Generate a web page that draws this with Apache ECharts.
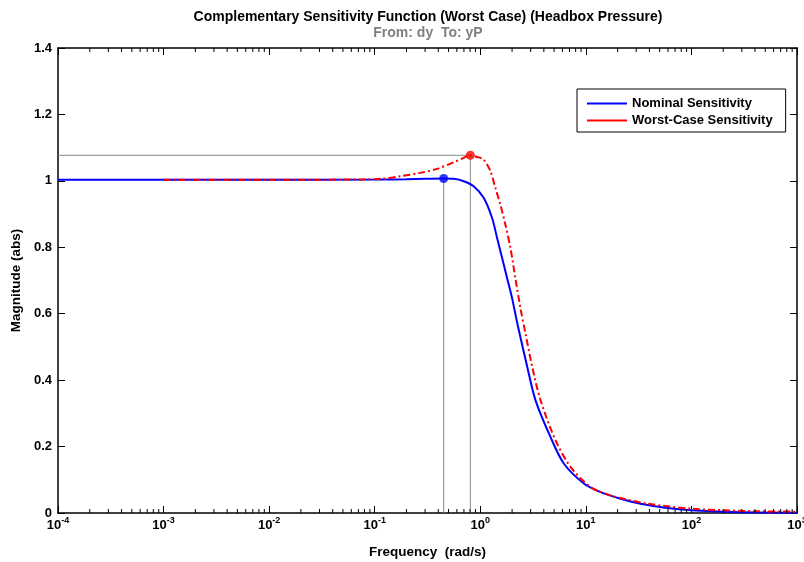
<!DOCTYPE html>
<html>
<head>
<meta charset="utf-8">
<script src="https://cdn.jsdelivr.net/npm/echarts@6/dist/echarts.min.js"></script>
<style>html,body{margin:0;padding:0;background:#fff;}#c{width:804px;height:562px;}</style>
</head>
<body>
<div id="c"></div>
<script>
// ---- data ----
const nominalFreq = [1e-4, 1e-3, 1e-2, 0.1, 0.2, 0.3, 0.45, 0.56, 0.697, 0.865, 1.077, 1.294, 1.443, 1.61, 1.795, 2.0, 2.26, 2.78, 3.33, 4.62, 6.18, 9.57, 13.8, 21.3, 33, 59.2, 100, 236, 1000];
const nominalMag  = [1.003, 1.003, 1.003, 1.004, 1.005, 1.006, 1.007, 1.006, 0.999, 0.984, 0.949, 0.888, 0.828, 0.768, 0.707, 0.647, 0.566, 0.441, 0.340, 0.229, 0.149, 0.089, 0.063, 0.043, 0.028, 0.015, 0.008, 0.003, 0.001];

const worstFreq = [1e-3, 1e-2, 0.05, 0.113, 0.175, 0.27, 0.389, 0.56, 0.697, 0.805, 0.933, 1.077, 1.248, 1.39, 1.55, 1.73, 1.93, 2.15, 2.40, 2.68, 3.10, 3.72, 5.16, 7.16, 11.1, 17.1, 25, 38.3, 100, 340, 1000];
const worstMag  = [1.003, 1.003, 1.004, 1.006, 1.014, 1.024, 1.036, 1.056, 1.069, 1.077, 1.072, 1.064, 1.029, 0.979, 0.928, 0.868, 0.798, 0.707, 0.617, 0.541, 0.441, 0.340, 0.219, 0.139, 0.078, 0.053, 0.040, 0.028, 0.013, 0.006, 0.004];

const nominalPeak = [0.45, 1.007];
const worstPeak = [0.805, 1.077];

const yTicks = [0, 0.2, 0.4, 0.6, 0.8, 1, 1.2, 1.4];
const xDecades = [-4, -3, -2, -1, 0, 1, 2, 3];

// minor tick positions (2..9 x 10^k)
const minorTicks = [];
for (let k = -4; k < 3; k++) for (let m = 2; m <= 9; m++) minorTicks.push(m * Math.pow(10, k));

const FONT = 'Liberation Sans, Arial, sans-serif';
const pairs = (xs, ys) => xs.map((x, i) => [x, ys[i]]);

const chart = echarts.init(document.getElementById('c'), null, {renderer: 'canvas'});

const xCommon = {
  type: 'log', logBase: 10, min: Math.pow(10, xDecades[0]), max: Math.pow(10, xDecades[xDecades.length - 1]),
  splitNumber: xDecades.length - 1,
  splitLine: {show: false},
  axisLine: {show: true, onZero: false, lineStyle: {color: '#000', width: 1.5}},
  axisTick: {show: true, inside: true, length: 7, lineStyle: {color: '#000', width: 1}}
};
const yCommon = {
  type: 'value', min: yTicks[0], max: yTicks[yTicks.length - 1], interval: 0.2,
  splitLine: {show: false},
  axisLine: {show: true, onZero: false, lineStyle: {color: '#000', width: 1.5}},
  axisTick: {show: true, inside: true, length: 7, lineStyle: {color: '#000', width: 1}}
};

chart.setOption({
  animation: false,
  backgroundColor: '#fff',
  title: {
    text: 'Complementary Sensitivity Function (Worst Case) (Headbox Pressure)',
    subtext: 'From: dy  To: yP',
    left: 423, top: 5, textAlign: 'center', itemGap: 2,
    textStyle: {fontFamily: FONT, fontSize: 14, fontWeight: 'bold', color: '#000'},
    subtextStyle: {fontFamily: FONT, fontSize: 14, fontWeight: 'bold', color: '#808080'}
  },
  legend: {
    data: ['Nominal Sensitivity', 'Worst-Case Sensitivity'],
    orient: 'vertical', left: 577, top: 89,
    padding: [8, 13, 5, 10], itemGap: 4,
    itemWidth: 40, itemHeight: 2, icon: 'rect',
    borderColor: '#000', borderWidth: 1, backgroundColor: '#fff',
    textStyle: {fontFamily: FONT, fontSize: 13, fontWeight: 'bold', color: '#000'}
  },
  grid: {left: 58, top: 48, right: 7, bottom: 49, containLabel: false, outerBoundsMode: 'none'},
  xAxis: [
    Object.assign({}, xCommon, {
      position: 'bottom',
      name: 'Frequency  (rad/s)', nameLocation: 'middle', nameGap: 32,
      nameTextStyle: {fontFamily: FONT, fontSize: 13.5, fontWeight: 'bold', color: '#000'},
      axisLabel: {
        show: true, margin: 3, color: '#000',
        formatter: v => '{b|10}{s|' + Math.round(Math.log10(v)) + '}',
        rich: {
          b: {fontFamily: FONT, fontSize: 13, fontWeight: 'bold', color: '#000'},
          s: {fontFamily: FONT, fontSize: 9, fontWeight: 'bold', color: '#000', padding: [0, 0, 9, 0]}
        }
      }
    }),
    Object.assign({}, xCommon, {position: 'top', axisLabel: {show: false}})
  ],
  yAxis: [
    Object.assign({}, yCommon, {
      position: 'left',
      name: 'Magnitude (abs)', nameLocation: 'middle', nameGap: 34,
      nameTextStyle: {fontFamily: FONT, fontSize: 13.5, fontWeight: 'bold', color: '#000'},
      axisLabel: {show: true, margin: 6, fontFamily: FONT, fontSize: 13, fontWeight: 'bold', color: '#000'}
    }),
    Object.assign({}, yCommon, {position: 'right', axisLabel: {show: false}})
  ],
  series: [
    {
      type: 'line', name: 'refW', silent: true, symbol: 'none', z: 1,
      data: [[Math.pow(10, xDecades[0]), worstPeak[1]], worstPeak, [worstPeak[0], 0]],
      lineStyle: {color: '#888', width: 1}
    },
    {
      type: 'line', name: 'refN', silent: true, symbol: 'none', z: 1,
      data: [nominalPeak, [nominalPeak[0], 0]],
      lineStyle: {color: '#888', width: 1}
    },
    {
      type: 'line', name: 'Nominal Sensitivity', symbol: 'none', smooth: 0.3, z: 3,
      data: pairs(nominalFreq, nominalMag),
      itemStyle: {color: '#0000ff'},
      lineStyle: {color: '#0000ff', width: 2}
    },
    {
      type: 'line', name: 'Worst-Case Sensitivity', symbol: 'none', smooth: 0.3, z: 4,
      data: pairs(worstFreq, worstMag),
      itemStyle: {color: '#ff0000'},
      lineStyle: {color: '#ff0000', width: 2, type: [7, 3, 2, 3]}
    },
    {
      type: 'scatter', name: 'peaks', silent: true, z: 5, symbolSize: 9,
      data: [
        {value: nominalPeak, itemStyle: {color: '#0000ff'}},
        {value: worstPeak, itemStyle: {color: '#ff0000'}}
      ]
    },
    {
      type: 'custom', name: 'minor', silent: true, z: 6, clip: false,
      data: minorTicks.map(f => [f, 0]),
      encode: {x: 0, y: 1},
      renderItem: (params, api) => {
        const f = api.value(0);
        const b = api.coord([f, yTicks[0]]);
        const t = api.coord([f, yTicks[yTicks.length - 1]]);
        return {
          type: 'group',
          children: [
            {type: 'line', shape: {x1: b[0], y1: b[1], x2: b[0], y2: b[1] - 4}, style: {stroke: '#000', lineWidth: 1}},
            {type: 'line', shape: {x1: t[0], y1: t[1], x2: t[0], y2: t[1] + 4}, style: {stroke: '#000', lineWidth: 1}}
          ]
        };
      }
    }
  ]
});
</script>
</body>
</html>
